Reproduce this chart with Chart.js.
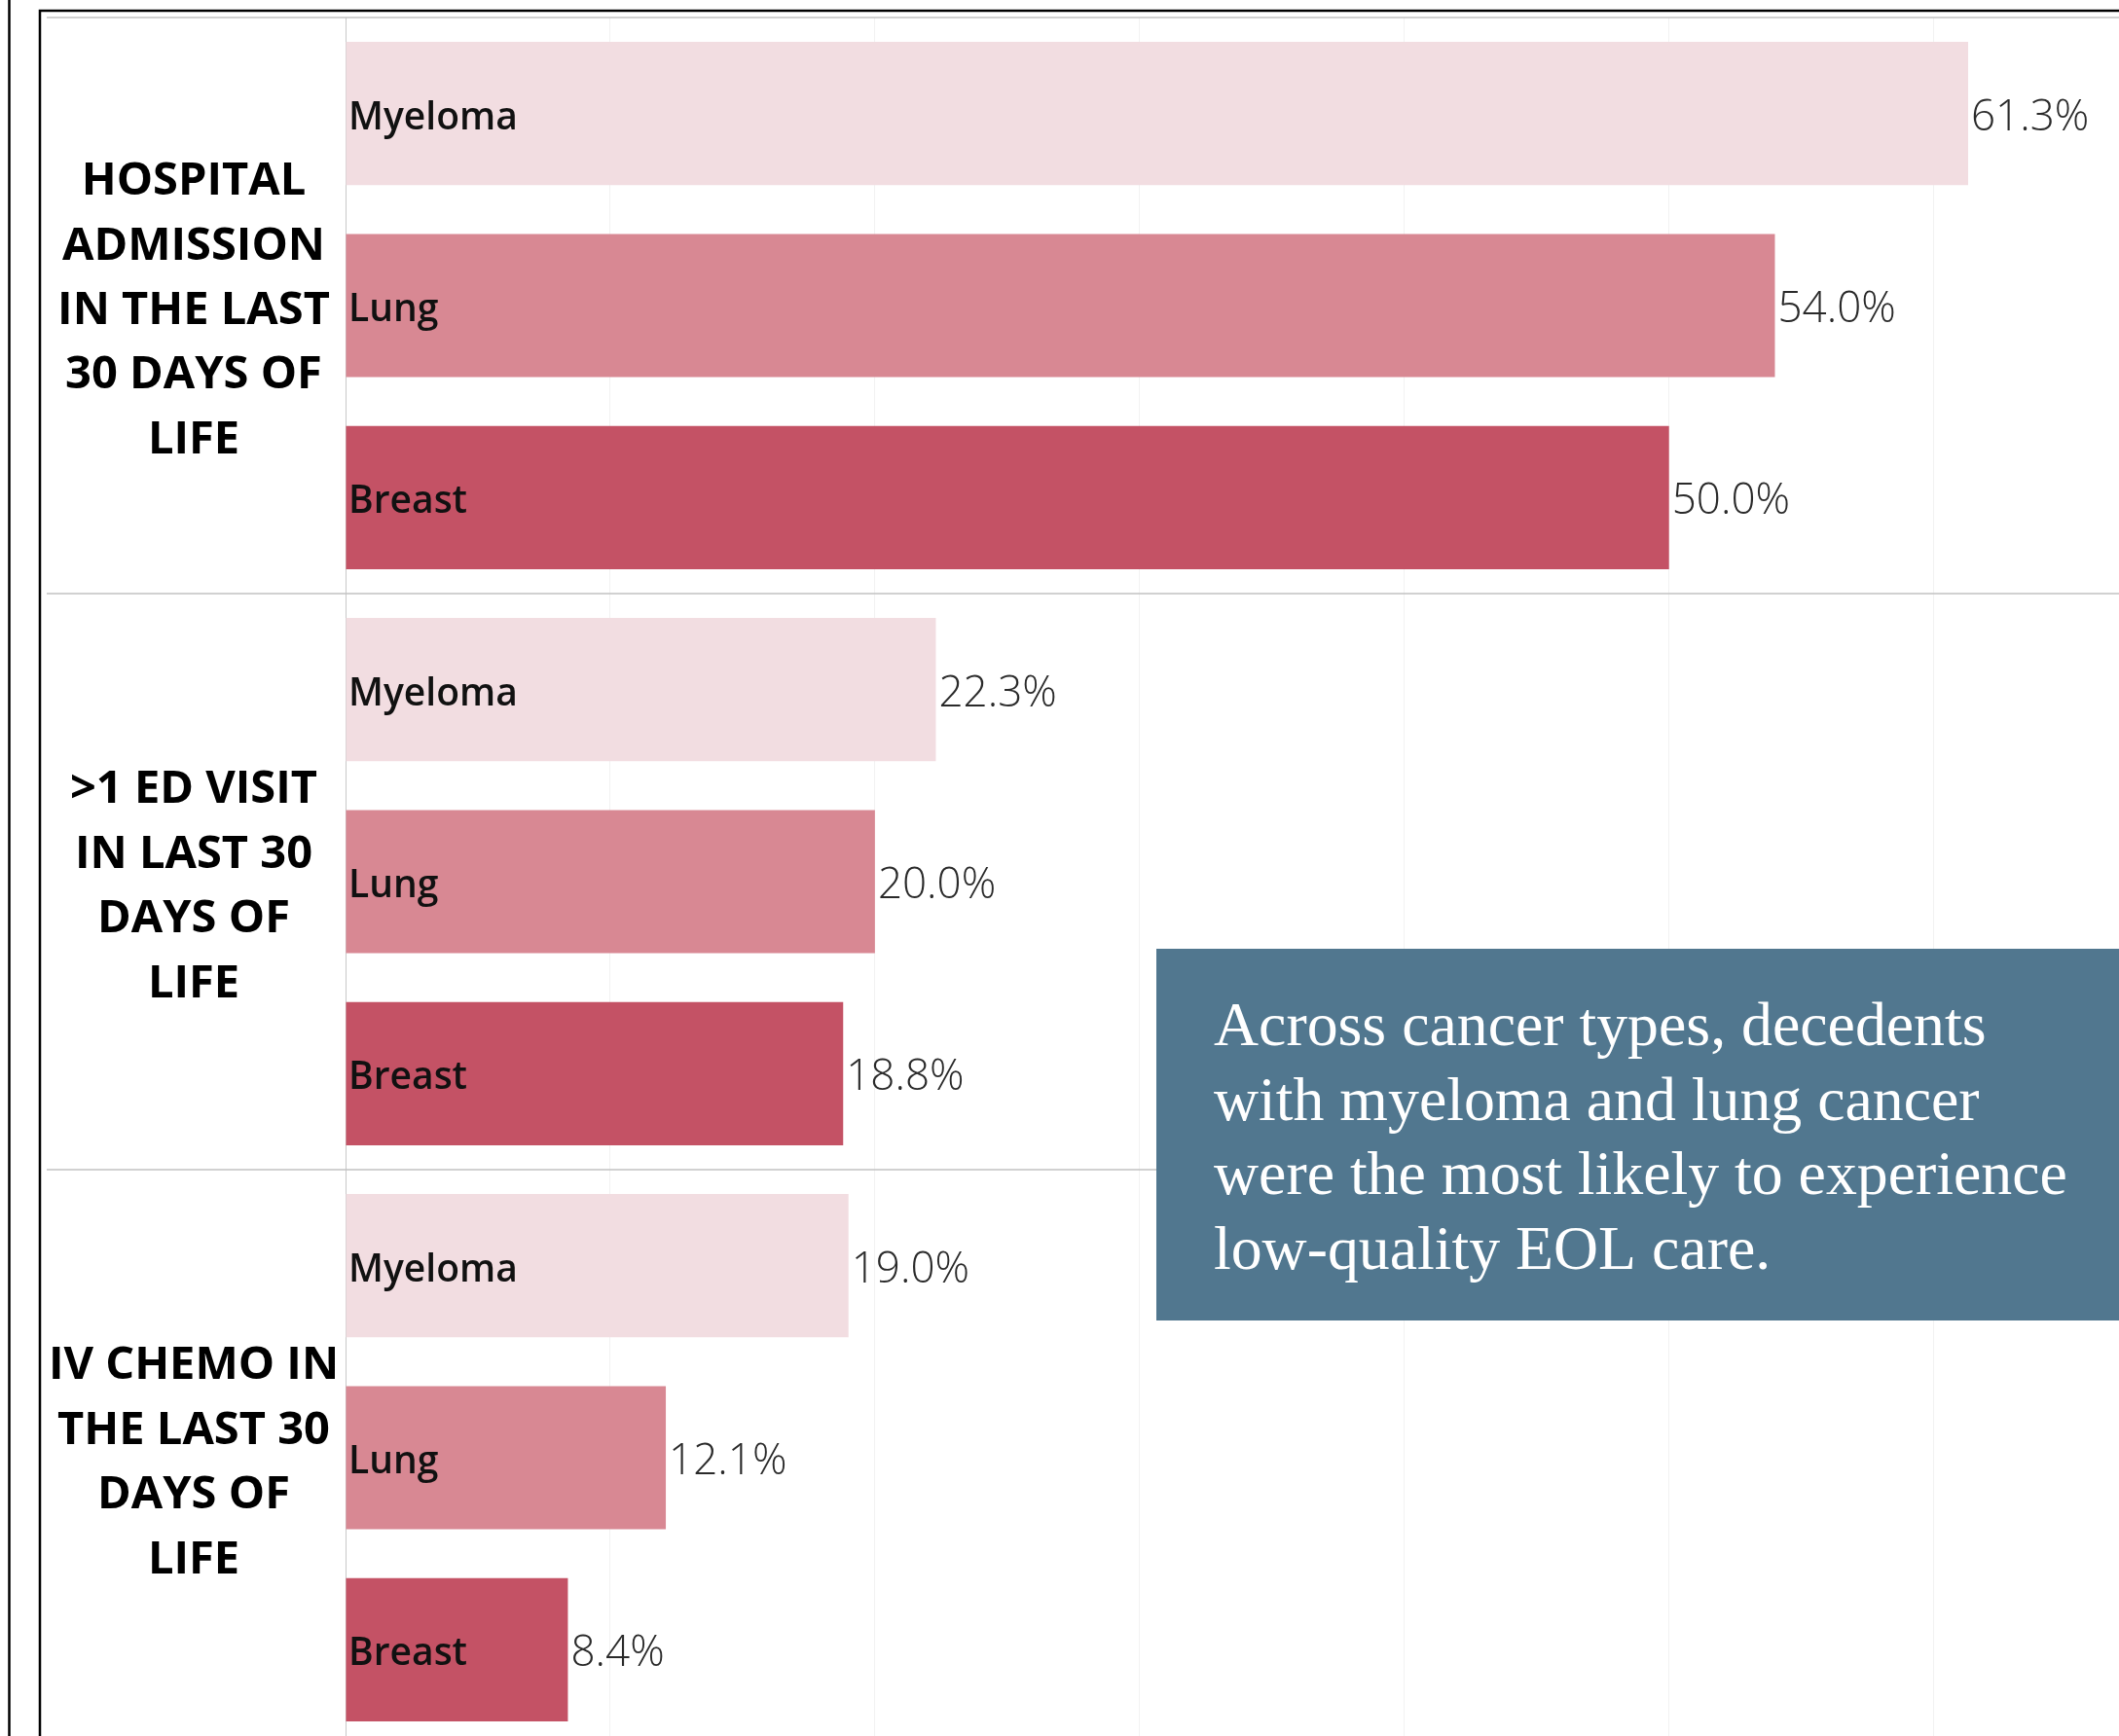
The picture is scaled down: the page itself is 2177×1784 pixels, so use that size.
<!DOCTYPE html>
<html>
<head>
<meta charset="utf-8">
<script src="https://cdn.jsdelivr.net/npm/chart.js@4.4.1/dist/chart.umd.min.js"></script>
<style>
  html, body { margin: 0; padding: 0; background: #fff; overflow: hidden; }
  #wrap { position: absolute; left: 0; top: 0; width: 2177px; height: 1800px; }
</style>
</head>
<body>
<div id="wrap"><canvas id="chart"></canvas></div>
<script>
// measures (row groups), split into the lines shown on the left
const measures = [
    ["HOSPITAL", "ADMISSION", "IN THE LAST", "30 DAYS OF", "LIFE"],
    [">1 ED VISIT", "IN LAST 30", "DAYS OF", "LIFE"],
    ["IV CHEMO IN", "THE LAST 30", "DAYS OF", "LIFE"]
];
const cancers = ["Myeloma", "Lung", "Breast"];
const hospitalAdmission = [61.3, 54.0, 50.0];
const edVisit = [22.3, 20.0, 18.8];
const ivChemo = [19.0, 12.1, 8.4];
const cancerColors = ["#f2dde1", "#d88893", "#c45265"];
const note = [
    "Across cancer types, decedents",
    "with myeloma and lung cancer",
    "were the most likely to experience",
    "low-quality EOL care."
];

const series = [hospitalAdmission, edVisit, ivChemo];
const labels = [];
const values = [];
const colors = [];
series.forEach((s, g) => {
    s.forEach((v, i) => {
        labels.push(g + " " + cancers[i]);
        values.push(v);
        colors.push(cancerColors[i]);
    });
});

function hline(ctx, x1, x2, y) {
    ctx.beginPath();
    ctx.moveTo(x1, y);
    ctx.lineTo(x2, y);
    ctx.stroke();
}

const overlay = {
    id: "overlay",
    beforeDraw(chart) {
        const ctx = chart.ctx;
        ctx.save();
        ctx.fillStyle = "#fff";
        ctx.fillRect(0, 0, chart.width, chart.height);
        ctx.restore();
    },
    afterDatasetsDraw(chart) {
        const ctx = chart.ctx;
        const xs = chart.scales.x;
        const ys = chart.scales.y;
        const meta = chart.getDatasetMeta(0);
        const band = ys.getPixelForValue(1) - ys.getPixelForValue(0);
        const x0 = xs.getPixelForValue(0);
        ctx.save();

        // labels inside and after each bar
        ctx.textBaseline = "alphabetic";
        ctx.textAlign = "left";
        meta.data.forEach((bar, i) => {
            ctx.fillStyle = "#111";
            ctx.font = "600 39px 'Open Sans'";
            ctx.fillText(cancers[i % 3], x0 + 3, bar.y + 16);
            ctx.fillStyle = "#2a2a2a";
            ctx.font = "300 44px 'Open Sans'";
            ctx.fillText(values[i].toFixed(1) + "%", bar.x + 3, bar.y + 17);
        });

        // group separators and group labels
        ctx.strokeStyle = "#c2c2c2";
        ctx.lineWidth = 1.5;
        ctx.textAlign = "center";
        ctx.fillStyle = "#000";
        ctx.font = "bold 47px 'Open Sans'";
        measures.forEach((lines, g) => {
            const top = ys.getPixelForValue(g * 3) - band / 2;
            hline(ctx, 48, chart.width, top);
            const mid = ys.getPixelForValue(g * 3 + 1);
            lines.forEach((t, k) => {
                ctx.fillText(t, 199, mid + (k - (lines.length - 1) / 2) * 66.4 + 19);
            });
        });

        // frame lines
        ctx.strokeStyle = "#000";
        ctx.lineWidth = 2.5;
        ctx.beginPath();
        ctx.moveTo(9.5, 0);
        ctx.lineTo(9.5, chart.height);
        ctx.stroke();
        ctx.beginPath();
        ctx.moveTo(41, chart.height);
        ctx.lineTo(41, 11);
        ctx.lineTo(chart.width, 11);
        ctx.stroke();

        // annotation box
        ctx.fillStyle = "#51778f";
        ctx.fillRect(1188, 975, chart.width - 1188, 382);
        ctx.fillStyle = "#fff";
        ctx.textAlign = "left";
        ctx.font = "64px 'Liberation Serif'";
        const w = ctx.measureText(note[2]).width;
        ctx.font = (64 * 877 / w).toFixed(1) + "px 'Liberation Serif'";
        note.forEach((t, k) => {
            ctx.fillText(t, 1247, 1074 + k * 76.5);
        });
        ctx.restore();
    }
};

new Chart(document.getElementById("chart"), {
    type: "bar",
    data: {
        labels: labels,
        datasets: [{
            data: values,
            backgroundColor: colors,
            barPercentage: 0.746,
            categoryPercentage: 1
        }]
    },
    options: {
        indexAxis: "y",
        responsive: true,
        maintainAspectRatio: false,
        animation: false,
        layout: { padding: { left: 355, top: 18, right: 0, bottom: 6 } },
        plugins: { legend: { display: false }, tooltip: { enabled: false } },
        scales: {
            x: {
                position: "top",
                min: 0,
                max: 67,
                ticks: { display: false, stepSize: 10 },
                border: { display: false },
                grid: {
                    drawTicks: false,
                    color: (c) => c.tick && c.tick.value === 0 ? "#c8c8c8"
                        : (c.tick && c.tick.value % 10 === 0 ? "#f2f2f2" : "rgba(0,0,0,0)")
                },
                afterFit: (s) => { s.height = 0; }
            },
            y: { display: false }
        }
    },
    plugins: [overlay]
});
</script>
</body>
</html>
